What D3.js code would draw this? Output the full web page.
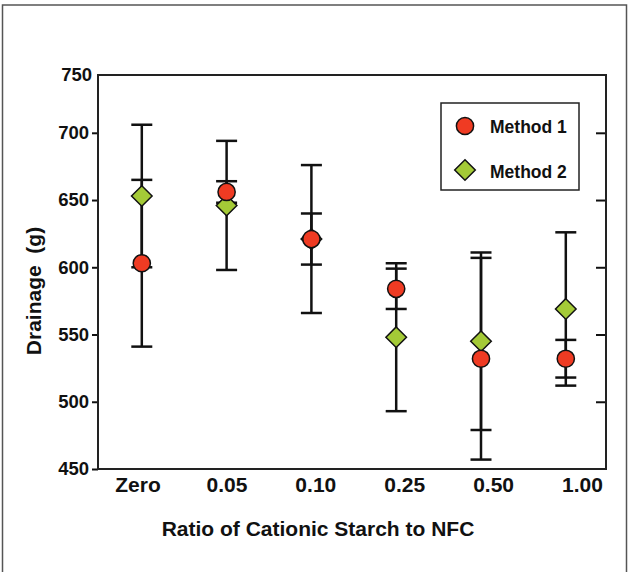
<!DOCTYPE html>
<html>
<head>
<meta charset="utf-8">
<script src="https://cdn.jsdelivr.net/npm/d3@7"></script>
<style>
  body { margin: 0; background: #fff; }
  svg { display: block; font-family: "Liberation Sans", Arial, sans-serif; }
</style>
</head>
<body>
<div id="chart"></div>
<script>
// data
const categories = ["Zero", "0.05", "0.10", "0.25", "0.50", "1.00"];
const method1 = [603, 656, 621, 584, 532, 532];
const method1Err = [62, 8, 19, 15, 75, 14];
const method2 = [653, 646, 621, 548, 545, 569];
const method2Err = [53, 48, 55, 55, 66, 57];
const yTicks = [450, 500, 550, 600, 650, 700];
const yTopLabel = "750";
const seriesNames = ["Method 1", "Method 2"];

const width = 628, height = 572;
const box = {left: 98, top: 75, right: 606, bottom: 469};

const svg = d3.select("#chart").append("svg")
    .attr("width", width)
    .attr("height", height);

// outer frame
svg.append("rect")
    .attr("x", 2.5).attr("y", 5)
    .attr("width", 624).attr("height", 600)
    .attr("fill", "#fff")
    .attr("stroke", "#555")
    .attr("stroke-width", 1.5);

// scales
let y = d3.scaleLinear()
    .domain([450, 700])
    .range([box.bottom, 132.8]);

let x = d3.scalePoint()
    .domain(categories)
    .range([141.8, 565.8]);

let xLabels = d3.scalePoint()
    .domain(categories)
    .range([137.5, 582]);

// left axis: outward ticks
svg.append("g")
    .attr("transform", `translate(${box.left},0)`)
    .call(d3.axisLeft(y).tickValues(yTicks).tickSize(6).tickPadding(3))
    .call(g => g.select(".domain").remove())
    .call(g => g.selectAll(".tick line").attr("stroke", "#111").attr("stroke-width", 2))
    .call(g => g.selectAll(".tick text")
        .attr("fill", "#111")
        .style("font-size", "18.5px")
        .style("font-weight", "bold"));

svg.append("text")
    .attr("x", box.left - 6)
    .attr("y", box.top)
    .attr("dy", "0.32em")
    .attr("text-anchor", "end")
    .attr("fill", "#111")
    .style("font-size", "18.5px")
    .style("font-weight", "bold")
    .text(yTopLabel);

// right axis: inward ticks, no labels
svg.append("g")
    .attr("transform", `translate(${box.right},0)`)
    .call(d3.axisLeft(y).tickValues(yTicks.slice(1)).tickSize(10).tickFormat(""))
    .call(g => g.select(".domain").remove())
    .call(g => g.selectAll(".tick line").attr("stroke", "#111").attr("stroke-width", 2));

// bottom axis: labels only
svg.append("g")
    .attr("transform", `translate(0,${box.bottom})`)
    .call(d3.axisBottom(xLabels).tickSize(0).tickPadding(8))
    .call(g => g.select(".domain").remove())
    .call(g => g.selectAll(".tick text")
        .attr("fill", "#111")
        .style("font-size", "21px")
        .style("font-weight", "bold"));

// plot frame
svg.append("rect")
    .attr("x", box.left).attr("y", box.top)
    .attr("width", box.right - box.left)
    .attr("height", box.bottom - box.top)
    .attr("fill", "none")
    .attr("stroke", "#222")
    .attr("stroke-width", 2);

// axis titles
svg.append("text")
    .attr("x", 318)
    .attr("y", 536)
    .attr("text-anchor", "middle")
    .attr("fill", "#111")
    .style("font-size", "21px")
    .style("font-weight", "bold")
    .text("Ratio of Cationic Starch to NFC");

svg.append("text")
    .attr("transform", "translate(41,291) rotate(-90)")
    .attr("text-anchor", "middle")
    .attr("fill", "#111")
    .style("font-size", "21px")
    .style("font-weight", "bold")
    .style("white-space", "pre")
    .text("Drainage  (g)");

// error bars
let bars = [];
categories.forEach((c, i) => {
    bars.push({cat: c, v: method1[i], e: method1Err[i]});
    bars.push({cat: c, v: method2[i], e: method2Err[i]});
});

let capW = 10.5;
let eb = svg.append("g")
    .attr("stroke", "#111")
    .attr("stroke-width", 2.5);

eb.selectAll(".stem")
    .data(bars)
    .join("line")
    .attr("class", "stem")
    .attr("x1", d => x(d.cat)).attr("x2", d => x(d.cat))
    .attr("y1", d => y(d.v + d.e)).attr("y2", d => y(d.v - d.e));

eb.selectAll(".cap-hi")
    .data(bars)
    .join("line")
    .attr("class", "cap-hi")
    .attr("x1", d => x(d.cat) - capW).attr("x2", d => x(d.cat) + capW)
    .attr("y1", d => y(d.v + d.e)).attr("y2", d => y(d.v + d.e));

eb.selectAll(".cap-lo")
    .data(bars)
    .join("line")
    .attr("class", "cap-lo")
    .attr("x1", d => x(d.cat) - capW).attr("x2", d => x(d.cat) + capW)
    .attr("y1", d => y(d.v - d.e)).attr("y2", d => y(d.v - d.e));

// markers
let red = "#ef3b23", green = "#a4ca37";
let diamond = d3.symbol().type(d3.symbolDiamond2).size(270);

svg.selectAll(".m2")
    .data(method2)
    .join("path")
    .attr("class", "m2")
    .attr("d", diamond)
    .attr("transform", (d, i) => `translate(${x(categories[i])},${y(d)})`)
    .attr("fill", green)
    .attr("stroke", "#111")
    .attr("stroke-width", 1.5);

svg.selectAll(".m1")
    .data(method1)
    .join("circle")
    .attr("class", "m1")
    .attr("cx", (d, i) => x(categories[i]))
    .attr("cy", d => y(d))
    .attr("r", 8.6)
    .attr("fill", red)
    .attr("stroke", "#111")
    .attr("stroke-width", 1.5);

// legend
let legend = svg.append("g");
legend.append("rect")
    .attr("x", 441).attr("y", 103)
    .attr("width", 138).attr("height", 87)
    .attr("fill", "#fff")
    .attr("stroke", "#222")
    .attr("stroke-width", 1.5);

legend.append("circle")
    .attr("cx", 465).attr("cy", 126)
    .attr("r", 8.6)
    .attr("fill", red)
    .attr("stroke", "#111")
    .attr("stroke-width", 1.5);

legend.append("path")
    .attr("d", diamond)
    .attr("transform", "translate(465,170)")
    .attr("fill", green)
    .attr("stroke", "#111")
    .attr("stroke-width", 1.5);

legend.selectAll(".leg-text")
    .data(seriesNames)
    .join("text")
    .attr("class", "leg-text")
    .attr("x", 490)
    .attr("y", (d, i) => [132.7, 178][i])
    .attr("fill", "#111")
    .style("font-size", "17.5px")
    .style("font-weight", "bold")
    .text(d => d);
</script>
</body>
</html>
